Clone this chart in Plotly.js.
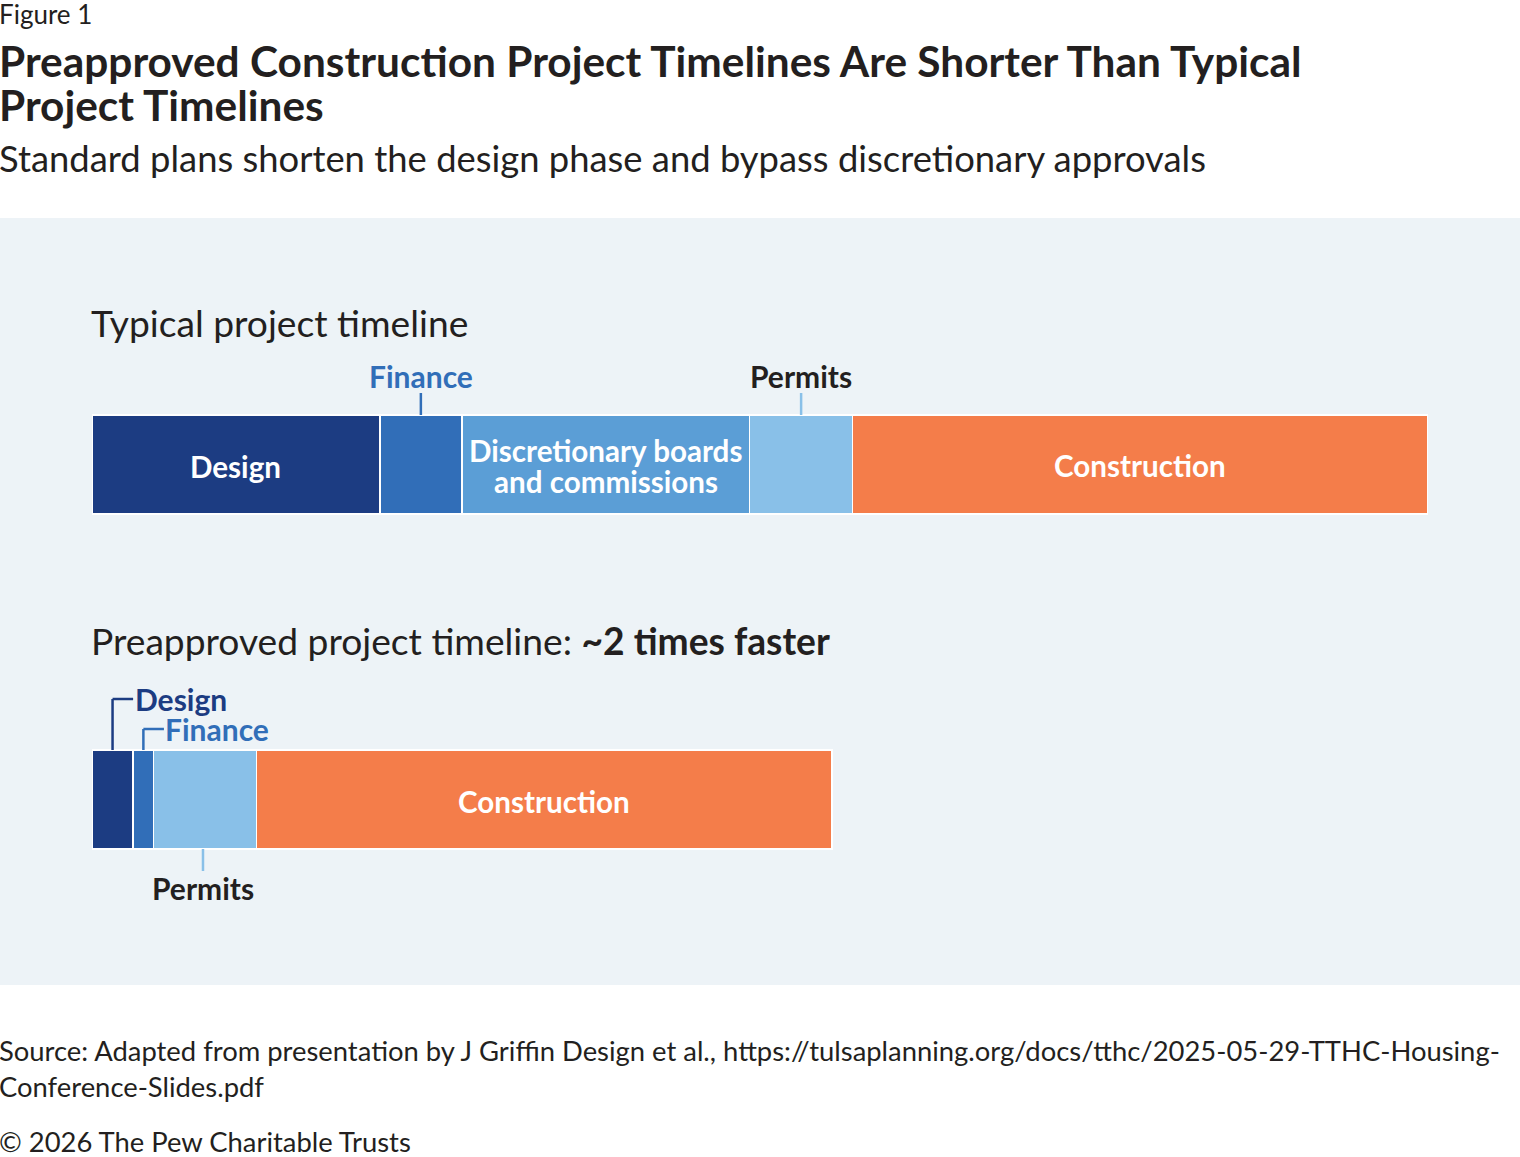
<!DOCTYPE html>
<html>
<head>
<meta charset="utf-8">
<script src="https://cdn.plot.ly/plotly-3.0.1.min.js"></script>
<style>
  html, body { margin: 0; padding: 0; background: #ffffff; }
  #plot { width: 1520px; height: 1157px; }
</style>
</head>
<body>
<div id="plot"></div>
<script>
// phase lengths (same unit for both rows)
var phases = ['Design', 'Finance', 'Discretionary boards and commissions', 'Permits', 'Construction'];
var typicalLen = [14, 4, 14, 5, 28];
var preapprovedLen = [2, 1, null, 5, 28];
var rows = [0, 1];   // 0 = typical, 1 = preapproved
var phaseColors = ['#1c3c82', '#316eb8', '#5b9ed6', '#89c0e8', '#f47d4a'];

var W = 1520, H = 1157;
var L = 92, R = 1428, T = 297, B = 967;
var font = 'Lato, "Open Sans", sans-serif';
var dark = '#231f20';

// page pixel -> paper fraction
function px(x) { return (x - L) / (R - L); }
function py(y) { return (B - y) / (B - T); }
// page pixel -> data y (range is [1.5, -0.5] over T..B)
function dy(y) { return -0.5 + (y - T) / (B - T) * 2; }

var barW = 0.2955;

var traces = phases.map(function(p, i) {
  return {
    type: 'bar',
    orientation: 'h',
    name: p,
    y: rows,
    x: [typicalLen[i], preapprovedLen[i]],
    width: barW,
    marker: {color: phaseColors[i], line: {color: '#ffffff', width: 1.5}},
    hoverinfo: 'skip'
  };
});

function starts(arr) {
  var s = [], acc = 0;
  arr.forEach(function(v) { s.push(acc); acc += (v || 0); });
  return s;
}
var tS = starts(typicalLen);
var pS = starts(preapprovedLen);
function mid(s, a, i) { return s[i] + a[i] / 2; }

var annotations = [];
// annotation boxes carry ~3px of padding, so left-aligned text is nudged back
function pageText(text, x, y, size, opts) {
  opts = opts || {};
  annotations.push({
    xref: 'paper', yref: 'paper', x: px(x - 3), y: py(y),
    xanchor: opts.anchor || 'left', yanchor: 'middle',
    text: text, showarrow: false,
    font: {family: font, size: size, color: opts.color || dark, weight: opts.weight || 400}
  });
}
function dataText(text, x, y, size, color, anchor) {
  annotations.push({
    xref: 'x', yref: 'y', x: x, y: y,
    xanchor: anchor || 'center', yanchor: 'middle',
    text: text, showarrow: false,
    font: {family: font, size: size, color: color, weight: 700}
  });
}

// header and footer
pageText('Figure 1', 0, 14, 26);
pageText('Preapproved Construction Project Timelines Are Shorter Than Typical', 0, 60, 42.4, {weight: 700});
pageText('Project Timelines', 0, 104, 42.4, {weight: 700});
pageText('Standard plans shorten the design phase and bypass discretionary approvals', 0, 158, 36.4);
pageText('Source: Adapted from presentation by J Griffin Design et al., https://tulsaplanning.org/docs/tthc/2025-05-29-TTHC-Housing-', 0, 1050, 27.4);
pageText('Conference-Slides.pdf', 0, 1086, 27.4);
pageText('© 2026 The Pew Charitable Trusts', 0, 1141, 27.4);

// section headings
pageText('Typical project timeline', 92, 322, 37.2);
pageText('Preapproved project timeline: <b>~2 times faster</b>', 92, 640, 37.2);

// labels inside bars
var inSize = 29.6;
dataText('Design', mid(tS, typicalLen, 0), dy(466), inSize, '#ffffff');
dataText('Discretionary boards', mid(tS, typicalLen, 2), dy(450), inSize, '#ffffff');
dataText('and commissions', mid(tS, typicalLen, 2), dy(481), inSize, '#ffffff');
dataText('Construction', mid(tS, typicalLen, 4), dy(465), inSize, '#ffffff');
dataText('Construction', mid(pS, preapprovedLen, 4), dy(801), inSize, '#ffffff');

// callout labels
var cSize = 30;
var barTop0 = -barW / 2, barTop1 = 1 - barW / 2, barBot1 = 1 + barW / 2;
dataText('Finance', mid(tS, typicalLen, 1), dy(376), cSize, phaseColors[1]);
dataText('Permits', mid(tS, typicalLen, 3), dy(376), cSize, dark);
dataText('Design', mid(pS, preapprovedLen, 0) + 1.0, dy(699), cSize, phaseColors[0], 'left');
dataText('Finance', mid(pS, preapprovedLen, 1) + 0.95, dy(729), cSize, phaseColors[1], 'left');
dataText('Permits', mid(pS, preapprovedLen, 3) - 0.1, dy(888), cSize, dark);

var shapes = [
  {type: 'rect', xref: 'paper', yref: 'paper', x0: px(0), x1: px(W), y0: py(985), y1: py(218),
   fillcolor: '#edf3f7', line: {width: 0}, layer: 'below'}
];
function seg(x0, y0, x1, y1, color) {
  shapes.push({type: 'line', xref: 'x', yref: 'y', x0: x0, y0: y0, x1: x1, y1: y1,
               line: {color: color, width: 2.5}});
}
var fm = mid(tS, typicalLen, 1), pm = mid(tS, typicalLen, 3);
seg(fm, barTop0, fm, dy(393), phaseColors[1]);
seg(pm, barTop0, pm, dy(393), phaseColors[3]);
var dm = mid(pS, preapprovedLen, 0), fm2 = mid(pS, preapprovedLen, 1), pm2 = mid(pS, preapprovedLen, 3);
seg(dm, barTop1, dm, dy(699), phaseColors[0]);
seg(dm, dy(699), dm + 1, dy(699), phaseColors[0]);
seg(fm2, barTop1, fm2, dy(729), phaseColors[1]);
seg(fm2, dy(729), fm2 + 1, dy(729), phaseColors[1]);
seg(pm2 - 0.1, barBot1, pm2 - 0.1, dy(871), phaseColors[3]);

var layout = {
  width: W, height: H,
  margin: {l: L, r: W - R, t: T, b: H - B, pad: 0},
  paper_bgcolor: '#ffffff',
  plot_bgcolor: 'rgba(0,0,0,0)',
  barmode: 'stack',
  showlegend: false,
  xaxis: {range: [0, 65], visible: false, fixedrange: true},
  yaxis: {range: [1.5, -0.5], visible: false, fixedrange: true},
  annotations: annotations,
  shapes: shapes
};

Plotly.newPlot('plot', traces, layout, {displayModeBar: false, staticPlot: true});
</script>
</body>
</html>
